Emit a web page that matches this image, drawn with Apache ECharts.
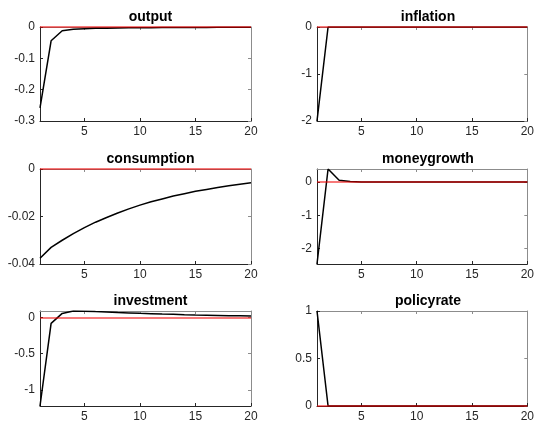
<!DOCTYPE html>
<html>
<head>
<meta charset="utf-8">
<script src="https://cdn.jsdelivr.net/npm/echarts@6/dist/echarts.min.js"></script>
<style>html,body{margin:0;padding:0;background:#fff}#c{width:537px;height:428px}</style>
</head>
<body>
<div id="c"></div>
<script>
const steps = [1,2,3,4,5,6,7,8,9,10,11,12,13,14,15,16,17,18,19,20];
const titles = ['output','inflation','consumption','moneygrowth','investment','policyrate'];
const output = [-0.258,-0.044,-0.012,-0.0075,-0.0054,-0.0043,-0.0036,-0.0031,-0.0027,-0.0024,-0.0021,-0.0019,-0.0017,-0.0015,-0.0013,-0.0012,-0.0011,-0.001,-0.0009,-0.0008];
const inflation = [-2,0,0,0,0,0,0,0,0,0,0,0,0,0,0,0,0,0,0,0];
const consumption = [-0.0376,-0.0330,-0.0300,-0.0272,-0.0247,-0.0224,-0.0204,-0.0185,-0.0168,-0.0152,-0.0138,-0.0126,-0.0114,-0.0104,-0.0094,-0.0086,-0.0078,-0.0071,-0.0064,-0.0058];
const moneygrowth = [-2.46,0.39,0.055,0.012,0.002,0,0,0,0,0,0,0,0,0,0,0,0,0,0,0];
const investment = [-1.22,-0.083,0.055,0.088,0.086,0.080,0.075,0.068,0.062,0.056,0.051,0.046,0.042,0.037,0.033,0.030,0.027,0.024,0.021,0.018];
const policyrate = [1,0,0,0,0,0,0,0,0,0,0,0,0,0,0,0,0,0,0,0];
const allSeries = [output, inflation, consumption, moneygrowth, investment, policyrate];
const yMin = [-0.3,-2,-0.04,-2.46,-1.22,0];
const yMax = [0,0,0,0.39,0.088,1];
const yTicks = [[-0.3,-0.2,-0.1,0],[-2,-1,0],[-0.04,-0.02,0],[-2,-1,0],[-1,-0.5,0],[0,0.5,1]];
const xTicks = [5,10,15,20];

const lefts = [40,317], widths = [211,212];
const tops = [27,169,311], heights = [94,95,95];
const font = 'Liberation Sans, Arial, sans-serif';
const dark = '#262626', light = '#8c8c8c';

const grid = [], xAxis = [], yAxis = [], series = [], title = [];
for (let i = 0; i < 6; i++) {
  const col = i % 2, row = Math.floor(i / 2);
  grid.push({left: lefts[col], top: tops[row], width: widths[col], height: heights[row], containLabel: false});
  title.push({text: titles[i], left: lefts[col] + widths[col] / 2, top: tops[row] - 22, textAlign: 'center',
    textStyle: {fontFamily: font, fontWeight: 'bold', fontSize: 14, color: '#000'}});
  const xBase = {type: 'value', gridIndex: i, min: 1, max: 20, splitLine: {show: false},
    axisTick: {inside: true, length: 3, customValues: xTicks, lineStyle: {color: dark}}};
  xAxis.push(Object.assign({}, xBase, {position: 'bottom',
    axisLine: {onZero: false, lineStyle: {color: dark, width: 1}},
    axisLabel: {customValues: xTicks, margin: 5, fontFamily: font, fontSize: 12, color: dark}}));
  xAxis.push(Object.assign({}, xBase, {position: 'top',
    axisLine: {onZero: false, lineStyle: {color: light, width: 1}},
    axisTick: {inside: true, length: 3, customValues: xTicks, lineStyle: {color: light}},
    axisLabel: {show: false}}));
  const yBase = {type: 'value', gridIndex: i, min: yMin[i], max: yMax[i], splitLine: {show: false}};
  yAxis.push(Object.assign({}, yBase, {position: 'left',
    axisLine: {show: true, onZero: false, lineStyle: {color: dark, width: 1}},
    axisTick: {show: true, inside: true, length: 3, customValues: yTicks[i], lineStyle: {color: dark}},
    axisLabel: {customValues: yTicks[i], margin: 5, fontFamily: font, fontSize: 12, color: dark}}));
  yAxis.push(Object.assign({}, yBase, {position: 'right',
    axisLine: {show: true, onZero: false, lineStyle: {color: light, width: 1}},
    axisTick: {show: true, inside: true, length: 3, customValues: yTicks[i], lineStyle: {color: light}},
    axisLabel: {show: false}}));
  series.push({type: 'line', xAxisIndex: 2 * i, yAxisIndex: 2 * i,
    data: steps.map((s, k) => [s, allSeries[i][k]]),
    showSymbol: false, symbol: 'none', lineStyle: {color: '#000', width: 1.5}, itemStyle: {color: '#000'},
    animation: false, clip: true, z: 3,
    markLine: {silent: true, symbol: ['none', 'none'], label: {show: false}, animation: false, z: 5,
      lineStyle: {color: 'rgba(240,0,0,0.7)', width: 1.6, type: 'solid'},
      emphasis: {disabled: true},
      data: [{yAxis: 0}]}});
}

const chart = echarts.init(document.getElementById('c'), null, {renderer: 'canvas'});
chart.setOption({backgroundColor: '#fff', animation: false, title, grid, xAxis, yAxis, series});
</script>
</body>
</html>
